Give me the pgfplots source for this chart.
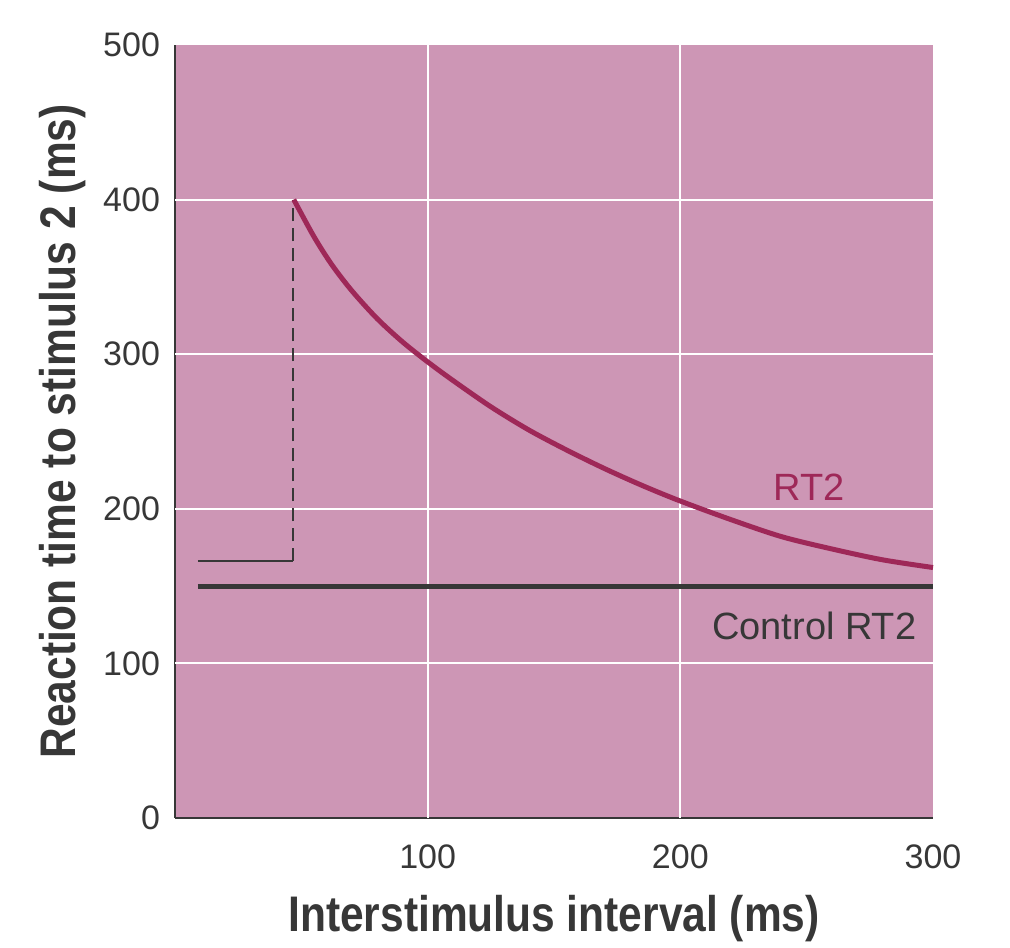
\documentclass[border=0pt]{standalone}
\usepackage{fontspec}
\setmainfont{Liberation Sans}
\newfontfamily\labfont[FakeStretch=0.85]{Liberation Sans Bold}
\usepackage{pgfplots}
\pgfplotsset{compat=1.18}
\definecolor{bgpink}{RGB}{205,150,181}
\definecolor{curve}{RGB}{158,40,88}
\definecolor{txt}{RGB}{55,55,55}
\begin{document}
\begin{tikzpicture}
\begin{axis}[
  width=379pt, height=386.5pt, scale only axis,
  xmin=0, xmax=300, ymin=0, ymax=500,
  axis x line*=bottom, axis y line*=left,
  axis line style={txt, line width=1pt},
  axis background/.style={fill=bgpink},
  xtick={100,200,300}, ytick={0,100,200,300,400,500},
  extra x ticks={100,200}, extra x tick labels={},
  extra x tick style={grid=major, major grid style={white, line width=1pt}},
  extra y ticks={100,200,300,400}, extra y tick labels={},
  extra y tick style={grid=major, major grid style={white, line width=1pt}},
  major tick length=0pt,
  /pgf/number format/assume math mode=true,
  tick label style={font=\fontsize{17}{20}\selectfont, text=txt},
  xticklabel style={yshift=-10pt},
  yticklabel style={xshift=-4pt},
  xlabel={\labfont\fontsize{25}{28}\selectfont Interstimulus interval (ms)},
  ylabel={\labfont\fontsize{25}{28}\selectfont Reaction time to stimulus 2 (ms)},
  xlabel style={text=txt, yshift=-6pt},
  ylabel style={text=txt, yshift=2pt},
  clip=false,
]
\addplot[txt, line width=2.5pt] coordinates {(9,150) (300,150)};
\addplot[txt, line width=1.1pt] coordinates {(9,166) (46.8,166)};
\addplot[txt, line width=1.2pt, dash pattern=on 6.5pt off 3.5pt] coordinates {(46.8,166) (46.8,400)};
\addplot[curve, line width=2.5pt, smooth] coordinates {
(47,400) (55,376) (62,358) (70,341) (80,323) (90,308) (100,295) (110,283) (125,266) (140,251) (155,238) (170,226) (185,215) (200,205) (220,193) (240,182) (260,174) (280,167) (300,162)};
\node[curve, font=\fontsize{19}{22}\selectfont] at (axis cs:251,214) {RT2};
\node[txt, font=\fontsize{19}{22}\selectfont] at (axis cs:253,124) {Control RT2};
\coordinate (bl) at (rel axis cs:-0.2309,-0.1682);
\coordinate (tr) at (rel axis cs:1.1016,1.0582);
\end{axis}
\pgfresetboundingbox
\path (bl) rectangle (tr);
\end{tikzpicture}
\end{document}
